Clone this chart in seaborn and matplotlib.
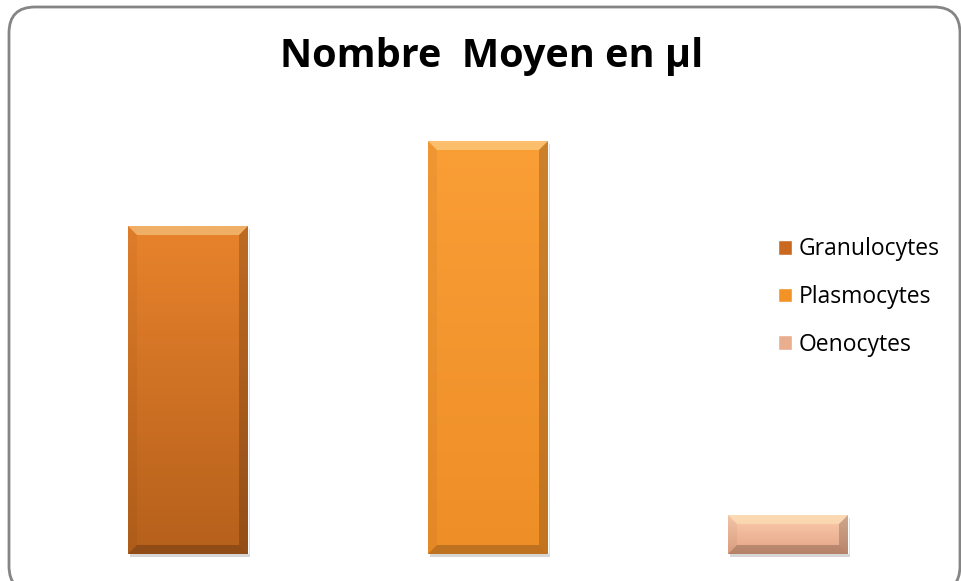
import numpy as np
import pandas as pd
import matplotlib
matplotlib.use("Agg")
import matplotlib.pyplot as plt
import seaborn as sns
from matplotlib.patches import FancyBboxPatch, Polygon, Rectangle
from matplotlib.colors import LinearSegmentedColormap

categories = ["Granulocytes", "Plasmocytes", "Oenocytes"]
values = [1640, 2065, 195]
title = "Nombre  Moyen en µl"
face_top = ["#E8832C", "#FA9E36", "#FCCCAE"]
face_bottom = ["#B5601C", "#EE8E27", "#E3A384"]
legend_colors = ["#C8691F", "#F39326", "#E8AE8E"]

sns.set_theme(style="white")
plt.rcParams['font.family'] = ['Open Sans', 'DejaVu Sans']

W, H = 961, 581
fig = plt.figure(figsize=(W / 100, H / 100), dpi=100)
fig.patch.set_facecolor("white")

# background frame axes
bg = fig.add_axes([0, 0, 1, 1], zorder=0)
bg.set_xlim(0, W)
bg.set_ylim(H, 0)
bg.axis("off")
bg.add_patch(FancyBboxPatch((9, 7), 951, 585, boxstyle="round,pad=0,rounding_size=26",
                            ec="#858585", lw=2, fc="white"))

ax = fig.add_axes([38 / W, (H - 554) / H, 900 / W, 453 / H], zorder=1)
ax.patch.set_alpha(0)
df = pd.DataFrame({"cat": categories, "val": values})
sns.barplot(data=df, x="cat", y="val", hue="cat", palette=legend_colors, width=0.4,
            ax=ax, legend=True, dodge=False, saturation=1)
ax.set_xlim(-0.5, 2.5)
ax.set_ylim(0, 2265)
for s in ax.spines.values():
    s.set_visible(False)
ax.set_xticks([])
ax.set_yticks([])
ax.set_xlabel("")
ax.set_ylabel("")

pxx = 3.0 / 900
pxy = 2265.0 / 453
b = 9
bars = [p for p in ax.patches if isinstance(p, Rectangle)][:3]
for i, p in enumerate(bars):
    x0, y0 = p.get_x(), p.get_y()
    w, h = p.get_width(), p.get_height()
    x1, y1 = x0 + w, y0 + h
    bx, by = b * pxx, min(b * pxy, h / 2.2)
    # shadow
    ax.add_patch(Rectangle((x0 + 2 * pxx, y0 - 3 * pxy), w, h, fc="#000000", alpha=0.16,
                           lw=0, zorder=p.get_zorder() - 0.5, clip_on=False))
    cmap = LinearSegmentedColormap.from_list("g", [face_bottom[i], face_top[i]])
    grad = np.linspace(0, 1, 128).reshape(-1, 1)
    im = ax.imshow(grad, cmap=cmap, extent=(x0, x1, y0, y1), origin="lower",
                   aspect="auto", zorder=p.get_zorder() + 0.1)
    im.set_clip_path(p)
    z = p.get_zorder() + 0.2
    ax.add_patch(Polygon([(x0, y1), (x1, y1), (x1 - bx, y1 - by), (x0 + bx, y1 - by)],
                         fc="#FFF3C0", alpha=0.4, lw=0, zorder=z))
    ax.add_patch(Polygon([(x0, y0), (x1, y0), (x1 - bx, y0 + by), (x0 + bx, y0 + by)],
                         fc="black", alpha=0.2, lw=0, zorder=z))
    ax.add_patch(Polygon([(x0, y0), (x0, y1), (x0 + bx, y1 - by), (x0 + bx, y0 + by)],
                         fc="black", alpha=0.04, lw=0, zorder=z))
    ax.add_patch(Polygon([(x1, y0), (x1, y1), (x1 - bx, y1 - by), (x1 - bx, y0 + by)],
                         fc="black", alpha=0.18, lw=0, zorder=z))

handles, labels = ax.get_legend_handles_labels()
if ax.get_legend() is not None:
    ax.get_legend().remove()
fig.legend(handles, labels, loc="center left", bbox_to_anchor=(778 / W, 1 - 297 / H),
           frameon=False, fontsize=16.5, handlelength=0.6, handleheight=0.6,
           handletextpad=0.3, labelspacing=1.03, borderpad=0, borderaxespad=0,
           labelcolor="black")

fig.text(492 / W, 1 - 67 / H, title, ha="center", va="baseline", fontsize=28.5,
         fontweight="bold", color="black")

fig.savefig("out.png", dpi=100)
